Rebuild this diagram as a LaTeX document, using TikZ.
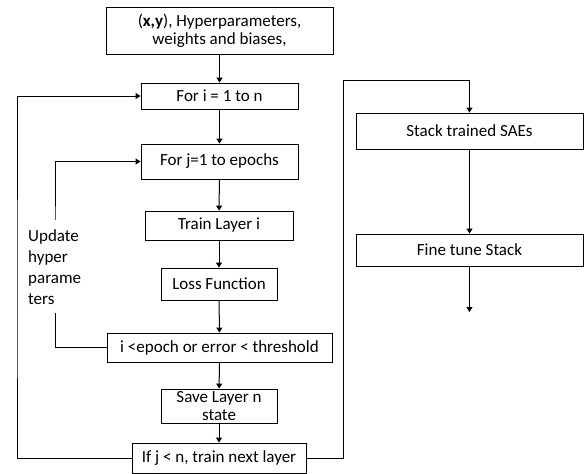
\documentclass[tikz,border=0pt]{standalone}
\usepackage{fontspec}
\setmainfont{Carlito}
\usetikzlibrary{arrows.meta}
\begin{document}
\begin{tikzpicture}[x=1pt,y=-1pt,
  box/.style={draw, line width=0.9pt, inner sep=0pt, align=center,
    font=\fontsize{17}{18}\selectfont},
  flow/.style={line width=1pt, -{Triangle[width=6pt,length=5pt]}},
  wire/.style={line width=1pt}]
\useasboundingbox (0,0) rectangle (584,474);
% main training column
\node[box, minimum width=227pt, minimum height=47pt] (input) at (219.5,30.5)
  {(\textbf{x,y}), Hyperparameters,\\weights and biases,};
\node[box, minimum width=157pt, minimum height=26pt] (fori) at (219.5,96) {For i = 1 to n};
\node[box, minimum width=157pt, minimum height=35pt] (forj) at (219.5,161.5) {For j=1 to epochs};
\node[box, minimum width=148pt, minimum height=29pt] (train) at (219,225.5) {Train Layer i};
\node[box, minimum width=116pt, minimum height=32pt] (loss) at (219,284) {Loss Function};
\node[box, minimum width=225pt, minimum height=29pt] (cond) at (219.5,347.5) {i <epoch or error < threshold};
\node[box, minimum width=116pt, minimum height=34pt] (save) at (219,406) {Save Layer n\\state};
\node[box, minimum width=174pt, minimum height=30pt] (ifj) at (219,458) {If j < n, train next layer};
% stacking column
\node[box, minimum width=227pt, minimum height=36pt] (stack) at (469.5,131) {Stack trained SAEs};
\node[box, minimum width=227pt, minimum height=32pt] (fine) at (469.5,250) {Fine tune Stack};
\coordinate (out) at (469.5,312);

\draw[flow] (input.south -| fori) -- (fori.north);
\draw[flow] (fori) -- (forj);
\draw[flow] (forj) -- (train);
\draw[flow] (train) -- (loss);
\draw[flow] (loss) -- (cond);
\draw[flow] (cond) -- (save);
\draw[flow] (save) -- (ifj);
% outer loop over layers
\draw[flow] (ifj.west) -| (17,300) |- (fori.west);
% inner loop over epochs
\draw[flow] (cond.west) -| (55,250) |- (forj.west);
\node[anchor=north west, align=left, fill=white, inner xsep=1pt, inner ysep=9pt,
  font=\fontsize{17}{21}\selectfont] (upd) at (27,220) {Update\\hyper\\parame\\ters};
% hand-over to stacking
\draw[flow] (ifj.east) -| (343,80) -| (stack.north);
\draw[flow] (stack) -- (fine);
\draw[flow] (fine) -- (out);
\end{tikzpicture}
\end{document}
